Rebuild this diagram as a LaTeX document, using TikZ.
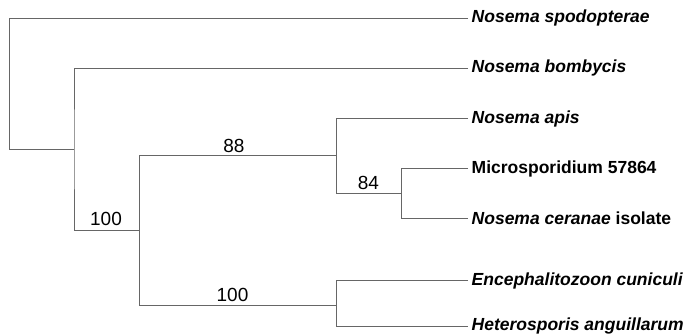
\documentclass[tikz,border=0pt]{standalone}
\usepackage{fontspec}
\setmainfont{Liberation Sans}
\begin{document}
\begin{tikzpicture}[x=1pt,y=-1pt,
  branch/.style={draw=black!60, line width=0.9pt},
  leaf/.style={anchor=west, inner xsep=3.5pt, inner ysep=0pt,
    font=\fontsize{17.5}{20}\selectfont\bfseries},
  support/.style={font=\fontsize{19}{22}\selectfont, inner sep=0pt}]
\useasboundingbox (0,0) rectangle (686,335);

% taxa
\node[leaf] (spo) at (468,18.3) {\itshape Nosema spodopterae};
\node[leaf] (bom) at (468,68.3) {\itshape Nosema bombycis};
\node[leaf] (api) at (468,118.7) {\itshape Nosema apis};
\node[leaf] (mic) at (468,168.7) {Microsporidium 57864};
\node[leaf] (cer) at (468,218.3) {{\itshape Nosema ceranae} isolate};
\node[leaf] (enc) at (468,280.7) {\itshape Encephalitozoon cuniculi};
\node[leaf] (het) at (468,326) {\itshape Heterosporis anguillarum};

% internal nodes
\coordinate (R) at (9.3,149.3);
\coordinate (A) at (74,149.3);
\coordinate (B) at (139.7,230);
\coordinate (C) at (336.3,155.7);
\coordinate (D) at (401.7,193.7);
\coordinate (E) at (336.3,305.5);

% branches
\draw[branch] (spo.west) -| (R) |- (A);
\draw[branch] (bom.west) -| (A) |- (B);
\draw[branch] (C) -| (B) |- (E);
\draw[branch] (api.west) -| (C) |- (D);
\draw[branch] (mic.west) -| (D) |- (cer.west);
\draw[branch] (enc.west) -| (E) |- (het.west);

% bootstrap values
\node[support] (bA) at (106,219) {100};
\node[support] (bC) at (234,146) {88};
\node[support] (bD) at (368.5,182.7) {84};
\node[support] (bE) at (232.5,294.5) {100};
\end{tikzpicture}
\end{document}
